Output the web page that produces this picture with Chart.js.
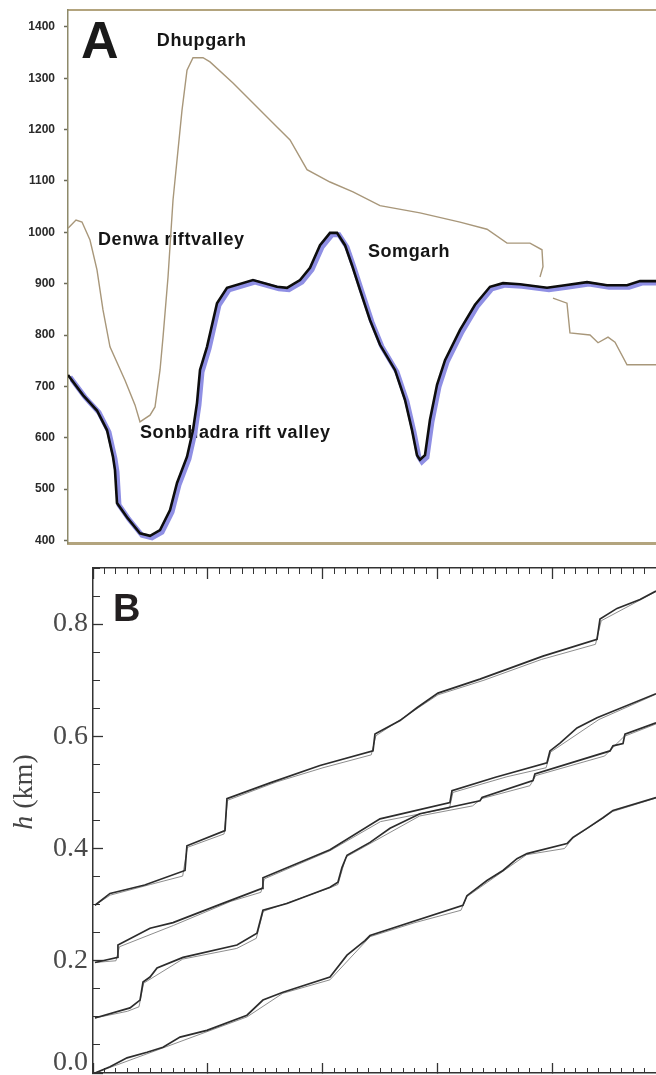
<!DOCTYPE html>
<html lang="en">
<head>
  <meta charset="UTF-8">
  <title>Elevation profile (A) and step curves (B)</title>
  <script src="https://cdn.jsdelivr.net/npm/chart.js"></script>
  <style>
    html, body { margin: 0; padding: 0; background: #fff; }
    canvas { position: absolute; left: 0; }
    #chartA { top: 0; }
    #chartB { top: 548px; }
  </style>
</head>
<body>
<canvas id="chartA" width="656" height="548"></canvas>
<canvas id="chartB" width="656" height="527"></canvas>

<script>
  // ---- panel A : elevation (m) along the section, x in % of section length ----
  const profileX = [0, 2.55, 4.93, 6.63, 7.65, 7.99, 8.33, 10.03, 12.24, 13.95, 15.65, 17.35, 18.54, 20.24, 21.26, 21.94,
    22.45, 23.64, 25.34, 27.04, 31.46, 35.54, 37.24, 39.46, 41.16, 42.86, 44.56, 45.75, 47.11, 48.3, 49.66, 51.36,
    53.06, 55.61, 57.31, 58.5, 59.35, 59.86, 60.71, 61.56, 62.76, 64.12, 66.67, 69.22, 71.77, 73.98, 76.87, 81.46,
    84.52, 88.27, 91.67, 95.07, 97.28, 100];
  const profileY = [722, 683, 653, 615, 563, 537, 473, 445, 414, 409, 420, 459, 512, 563, 615, 668,
    732, 777, 862, 892, 907, 894, 892, 907, 931, 975, 999, 999, 975, 936, 888, 829,
    781, 732, 674, 615, 566, 557, 566, 635, 703, 751, 810, 859, 894, 901, 899, 892,
    897, 903, 897, 897, 905, 905];

  const ridgeX = [0, 1.36, 2.38, 3.74, 4.93, 5.95, 7.14, 9.69, 11.39, 12.24, 13.95, 14.8, 15.65, 16.16, 17.01, 17.86,
    19.39, 20.24, 21.26, 22.96, 24.15, 28.06, 31.46, 34.86, 37.76, 40.65, 44.56, 48.47, 53.06, 59.86, 66.67, 71.26,
    74.66, 78.57, 80.61, 80.78, 80.27];
  const ridgeY = [1008, 1024, 1020, 985, 927, 849, 777, 712, 664, 631, 644, 660, 732, 796, 913, 1063,
    1238, 1316, 1340, 1340, 1332, 1291, 1252, 1213, 1180, 1122, 1098, 1079, 1052, 1038, 1020, 1006,
    979, 979, 966, 933, 913];
  const ridgeTailX = [82.48, 84.86, 85.37, 88.78, 90.14, 91.84, 93.03, 95.07, 100];
  const ridgeTailY = [872, 862, 804, 800, 785, 796, 786, 742, 742];

  const elevTicks = [400, 500, 600, 700, 800, 900, 1000, 1100, 1200, 1300, 1400];

  const placeNames = ['Dhupgarh', 'Denwa riftvalley', 'Somgarh', 'Sonbhadra rift valley'];
  const placeX = [15.1, 5.1, 51.0, 12.24];
  const placeY = [1363, 975, 952, 600];

  // ---- panel B : h (km), four runs ----
  const runX1 = [0.017, 0.148, 0.45, 0.8, 0.817, 1.148, 1.165, 1.54, 1.974, 2.435, 2.452, 2.67, 2.817, 3.0, 3.365, 3.913, 4.383, 4.409, 4.557, 4.757, 4.896];
  const runY1 = [0.299, 0.32, 0.335, 0.361, 0.405, 0.432, 0.489, 0.517, 0.548, 0.574, 0.604, 0.628, 0.651, 0.677, 0.702, 0.743, 0.773, 0.809, 0.828, 0.844, 0.859];
  const fitX1 = [0.017, 0.15, 0.5, 0.78, 0.82, 1.14, 1.17, 1.6, 2.0, 2.42, 2.46, 3.0, 3.4, 3.9, 4.37, 4.42, 4.896];
  const fitY1 = [0.299, 0.317, 0.336, 0.351, 0.402, 0.426, 0.486, 0.519, 0.544, 0.567, 0.601, 0.674, 0.7, 0.737, 0.764, 0.806, 0.858];

  const runX2 = [0.017, 0.217, 0.217, 0.496, 0.696, 1.1, 1.47, 1.478, 2.061, 2.496, 3.104, 3.122, 3.5, 3.948, 3.974, 4.061, 4.209, 4.383, 4.896];
  const runY2 = [0.197, 0.206, 0.228, 0.258, 0.268, 0.3, 0.329, 0.348, 0.398, 0.453, 0.482, 0.503, 0.527, 0.553, 0.574, 0.588, 0.615, 0.633, 0.676];
  const fitX2 = [0.017, 0.2, 0.23, 0.7, 1.2, 1.46, 1.49, 2.06, 2.5, 3.1, 3.13, 3.6, 3.94, 3.98, 4.4, 4.896];
  const fitY2 = [0.197, 0.2, 0.225, 0.263, 0.306, 0.322, 0.346, 0.396, 0.448, 0.472, 0.5, 0.528, 0.544, 0.572, 0.63, 0.675];

  const runX3 = [0.017, 0.322, 0.409, 0.435, 0.496, 0.557, 0.783, 1.252, 1.426, 1.478, 1.687, 2.061, 2.13, 2.165, 2.209, 2.409, 2.583,
    2.843, 3.365, 3.383, 3.826, 3.843, 4.496, 4.522, 4.609, 4.626, 4.896];
  const runY3 = [0.098, 0.116, 0.13, 0.162, 0.171, 0.187, 0.206, 0.228, 0.249, 0.29, 0.302, 0.331, 0.34, 0.366, 0.388, 0.411, 0.436,
    0.462, 0.485, 0.491, 0.521, 0.533, 0.574, 0.583, 0.587, 0.604, 0.624];
  const fitX3 = [0.017, 0.3, 0.4, 0.44, 0.78, 1.25, 1.42, 1.48, 2.06, 2.13, 2.2, 2.84, 3.3, 3.38, 3.8, 3.85, 4.45, 4.52, 4.62, 4.896];
  const fitY3 = [0.098, 0.11, 0.118, 0.16, 0.203, 0.222, 0.24, 0.288, 0.33, 0.336, 0.385, 0.458, 0.476, 0.489, 0.512, 0.53, 0.565, 0.58, 0.6, 0.622];

  const runX4 = [0.017, 0.148, 0.296, 0.47, 0.609, 0.757, 0.991, 1.339, 1.478, 1.652, 2.061, 2.209, 2.365, 2.409, 3.217, 3.252, 3.426,
    3.565, 3.687, 3.774, 4.122, 4.174, 4.296, 4.435, 4.522, 4.896];
  const runY4 = [0.0, 0.011, 0.027, 0.037, 0.046, 0.064, 0.076, 0.103, 0.13, 0.144, 0.171, 0.21, 0.236, 0.245, 0.299, 0.316, 0.343,
    0.361, 0.382, 0.391, 0.409, 0.42, 0.436, 0.455, 0.468, 0.491];
  const fitX4 = [0.017, 0.6, 1.34, 1.65, 2.06, 2.41, 2.8, 3.2, 3.25, 3.77, 4.1, 4.17, 4.52, 4.896];
  const fitY4 = [0.0, 0.044, 0.1, 0.142, 0.166, 0.243, 0.268, 0.29, 0.314, 0.389, 0.4, 0.418, 0.466, 0.49];

  const hTicks = [0, 0.2, 0.4, 0.6, 0.8];
  const distTicks = [0, 1, 2, 3, 4];

  function toPoints(xs, ys) {
    return xs.map((x, i) => ({ x: x, y: ys[i] }));
  }
  function stepTicks(from, to, step) {
    const out = [];
    for (let v = from; v <= to + 1e-9; v += step) out.push({ value: Math.round(v * 1000) / 1000 });
    return out;
  }
  function fixedTicks(list) {
    return scale => { scale.ticks = list.map(v => ({ value: v })); };
  }
  // keep the plot frame where it is: no extra room for end labels
  function noPadding(scale) {
    scale.paddingTop = 0;
    scale.paddingBottom = 0;
    scale.paddingLeft = 0;
    scale.paddingRight = 0;
  }
  const zeroHeight = scale => { scale.height = 0; noPadding(scale); };
  const zeroWidth = scale => { scale.width = 0; noPadding(scale); };

  // ---------- chart A ----------
  const tan = '#b3a47e';

  const offsetShadow = {
    id: 'offsetShadow',
    beforeDatasetDraw(chart, args) {
      if (args.index === 1) { chart.ctx.save(); chart.ctx.translate(2, 2); }
    },
    afterDatasetDraw(chart, args) {
      if (args.index === 1) chart.ctx.restore();
    }
  };

  const placeLabels = {
    id: 'placeLabels',
    beforeDatasetsDraw(chart) {
      const { ctx, scales: { x, y } } = chart;
      ctx.save();
      ctx.fillStyle = '#151515';
      ctx.textBaseline = 'alphabetic';
      ctx.font = 'bold 18px "Liberation Sans", Arial, sans-serif';
      ctx.letterSpacing = '0.6px';
      placeNames.forEach((name, i) => {
        ctx.fillText(name, x.getPixelForValue(placeX[i]), y.getPixelForValue(placeY[i]));
      });
      ctx.letterSpacing = '0px';
      ctx.font = 'bold 52px "Liberation Sans", Arial, sans-serif';
      ctx.fillStyle = '#1a1a1a';
      ctx.fillText('A', x.getPixelForValue(2.2), y.getPixelForValue(1340));
      ctx.restore();
    }
  };

  new Chart(document.getElementById('chartA'), {
    type: 'line',
    data: {
      datasets: [
        { label: 'profile', data: toPoints(profileX, profileY), borderColor: '#0d0d0d', borderWidth: 2.6 },
        { label: 'profile shade', data: toPoints(profileX, profileY), borderColor: '#8f8fe4', borderWidth: 5 },
        { label: 'upland', data: toPoints(ridgeX, ridgeY), borderColor: '#a8977a', borderWidth: 1.4 },
        { label: 'upland tail', data: toPoints(ridgeTailX, ridgeTailY), borderColor: '#a8977a', borderWidth: 1.4 }
      ]
    },
    options: {
      responsive: false,
      animation: false,
      events: [],
      elements: { point: { radius: 0 }, line: { tension: 0 } },
      layout: { padding: { top: 10, bottom: 5, left: 0, right: 0 } },
      plugins: { legend: { display: false }, tooltip: { enabled: false } },
      scales: {
        x: {
          type: 'linear', min: 0, max: 100,
          ticks: { display: false },
          grid: { display: false },
          border: { color: tan, width: 3 },
          afterFit: zeroHeight
        },
        xTop: {
          type: 'linear', position: 'top', min: 0, max: 100,
          ticks: { display: false },
          grid: { display: false },
          border: { color: tan, width: 2 },
          afterFit: zeroHeight
        },
        y: {
          type: 'linear', min: 395, max: 1433,
          afterBuildTicks: fixedTicks(elevTicks),
          ticks: {
            padding: 9,
            color: '#2a2a2a',
            font: { family: '"Liberation Sans", Arial, sans-serif', size: 12, weight: 'bold' },
            callback: v => String(v)
          },
          grid: { drawOnChartArea: false, tickLength: 4, tickColor: '#6b6a5a', tickWidth: 1.5 },
          border: { color: '#8e8a6a', width: 1.5 },
          afterFit: scale => { scale.width = 68; noPadding(scale); }
        }
      }
    },
    plugins: [offsetShadow, placeLabels]
  });

  // ---------- chart B ----------
  const ink = '#333333';
  const xMaxB = 4.896;

  const panelBText = {
    id: 'panelBText',
    afterDraw(chart) {
      const { ctx, scales: { x, y } } = chart;
      ctx.save();
      ctx.fillStyle = '#231f20';
      ctx.font = 'bold 38px "Liberation Sans", Arial, sans-serif';
      ctx.textBaseline = 'alphabetic';
      ctx.fillText('B', x.getPixelForValue(0.174), y.getPixelForValue(0.805));

      // axis title: italic h, upright (km)
      const italic = 'italic 28px "Liberation Serif", "Times New Roman", serif';
      const upright = '28px "Liberation Serif", "Times New Roman", serif';
      ctx.font = italic;
      const wH = ctx.measureText('h').width;
      ctx.font = upright;
      const wRest = ctx.measureText(' (km)').width;
      ctx.translate(25, 244);
      ctx.rotate(-Math.PI / 2);
      ctx.fillStyle = '#444';
      ctx.textBaseline = 'middle';
      const start = -(wH + wRest) / 2;
      ctx.font = italic;
      ctx.fillText('h', start, 0);
      ctx.font = upright;
      ctx.fillText(' (km)', start + wH, 0);
      ctx.restore();
    }
  };

  const runStyle = { borderColor: '#2c2c2c', borderWidth: 1.7 };
  const fitStyle = { borderColor: '#808080', borderWidth: 0.9 };

  const serif = '"Liberation Serif", "Times New Roman", serif';

  new Chart(document.getElementById('chartB'), {
    type: 'line',
    data: {
      datasets: [
        Object.assign({ label: 'run 1', data: toPoints(runX1, runY1) }, runStyle),
        Object.assign({ label: 'run 2', data: toPoints(runX2, runY2) }, runStyle),
        Object.assign({ label: 'run 3', data: toPoints(runX3, runY3) }, runStyle),
        Object.assign({ label: 'run 4', data: toPoints(runX4, runY4) }, runStyle),
        Object.assign({ label: 'fit 1', data: toPoints(fitX1, fitY1) }, fitStyle),
        Object.assign({ label: 'fit 2', data: toPoints(fitX2, fitY2) }, fitStyle),
        Object.assign({ label: 'fit 3', data: toPoints(fitX3, fitY3) }, fitStyle),
        Object.assign({ label: 'fit 4', data: toPoints(fitX4, fitY4) }, fitStyle)
      ]
    },
    options: {
      responsive: false,
      animation: false,
      events: [],
      elements: { point: { radius: 0 }, line: { tension: 0 } },
      layout: { padding: { top: 20, bottom: 2, left: 0, right: 0 } },
      plugins: { legend: { display: false }, tooltip: { enabled: false } },
      scales: {
        x: {
          type: 'linear', position: 'bottom', min: 0, max: xMaxB,
          afterBuildTicks: fixedTicks(distTicks),
          ticks: { display: false },
          grid: { drawOnChartArea: false, tickLength: -10, tickColor: ink, tickWidth: 1.3 },
          border: { color: ink, width: 1.5 },
          afterFit: zeroHeight
        },
        xMinor: {
          type: 'linear', position: 'bottom', min: 0, max: xMaxB,
          afterBuildTicks: s => { s.ticks = stepTicks(0, xMaxB, 0.1); },
          ticks: { display: false },
          grid: { drawOnChartArea: false, tickLength: -5, tickColor: ink, tickWidth: 1 },
          border: { display: false },
          afterFit: zeroHeight
        },
        xTop: {
          type: 'linear', position: 'top', min: 0, max: xMaxB,
          afterBuildTicks: fixedTicks(distTicks),
          ticks: { display: false },
          grid: { drawOnChartArea: false, tickLength: -11, tickColor: ink, tickWidth: 1.3 },
          border: { color: ink, width: 1.5 },
          afterFit: zeroHeight
        },
        xTopMinor: {
          type: 'linear', position: 'top', min: 0, max: xMaxB,
          afterBuildTicks: s => { s.ticks = stepTicks(0, xMaxB, 0.1); },
          ticks: { display: false },
          grid: { drawOnChartArea: false, tickLength: -6, tickColor: ink, tickWidth: 1 },
          border: { display: false },
          afterFit: zeroHeight
        },
        y: {
          type: 'linear', position: 'left', min: 0, max: 0.9, weight: 1,
          afterBuildTicks: fixedTicks(hTicks),
          ticks: {
            padding: 15,
            color: '#4a4a4a',
            // the bottom label sits a little above its tick, as in the source figure
            font: c => ({
              family: serif, size: 28,
              lineHeight: (c.tick && c.tick.value === 0) ? '20px' : 1.2
            }),
            callback: v => (v === 0 ? ['0.0', ''] : v.toFixed(1))
          },
          grid: { drawOnChartArea: false, tickLength: -10, tickColor: ink, tickWidth: 1.3 },
          border: { color: ink, width: 1.5 },
          afterFit: scale => { scale.width = 93; noPadding(scale); }
        },
        yMinor: {
          type: 'linear', position: 'left', min: 0, max: 0.9, weight: 0,
          afterBuildTicks: s => { s.ticks = stepTicks(0, 0.9, 0.05); },
          ticks: { display: false },
          grid: { drawOnChartArea: false, tickLength: -7, tickColor: ink, tickWidth: 1 },
          border: { display: false },
          afterFit: zeroWidth
        }
      }
    },
    plugins: [panelBText]
  });
</script>
</body>
</html>
